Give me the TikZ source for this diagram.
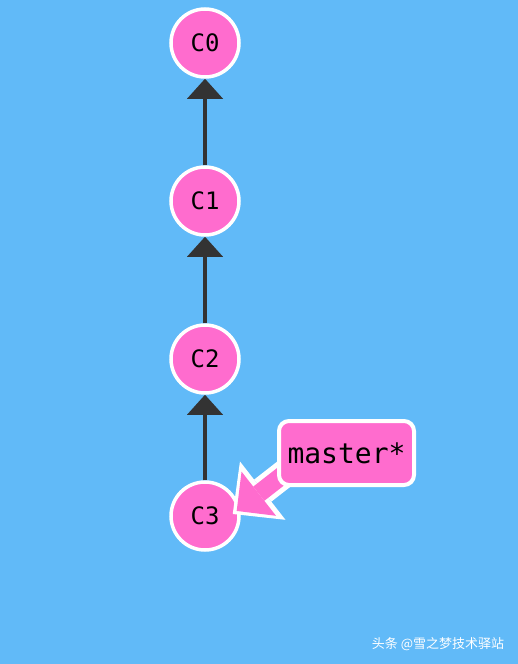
\documentclass[tikz,border=0pt]{standalone}
\usepackage{fontspec}
\setmonofont{DejaVu Sans Mono}
\newfontfamily\cjkfont{Noto Sans CJK SC}
\usepackage{xcolor}
\usepackage{tikz}
\usetikzlibrary{positioning}
\usetikzlibrary{arrows.meta}
\definecolor{bgblue}{RGB}{97,186,248}
\definecolor{commitpink}{RGB}{255,108,206}
\definecolor{edgegray}{RGB}{51,51,51}
\tikzstyle{commit}=[circle,fill=commitpink,draw=white,line width=3.5pt,minimum size=68pt,inner sep=0pt,font=\ttfamily\fontsize{24}{28}\selectfont]
\tikzstyle{edge} = [draw,line width=4pt,edgegray,-{Triangle[width=36pt,length=20pt,line width=0pt]}]
\tikzstyle{branch}=[rectangle,rounded corners=10pt,fill=commitpink,draw=white,line width=4pt,minimum width=135pt,minimum height=64pt,inner sep=0pt,font=\ttfamily\fontsize{28}{32}\selectfont]
\tikzstyle{headout}=[draw=white,line width=28pt,-{Triangle[width=74pt,length=38pt,line width=0pt]}]
\tikzstyle{headin}=[draw=commitpink,line width=18pt,shorten >=5pt,-{Triangle[width=56pt,length=28pt,line width=0pt]}]
\tikzset{wmark/.style={font=\cjkfont\fontsize{13}{15}\selectfont,text=white}}

\begin{document}
\begin{tikzpicture}[x=1pt,y=-1pt]

 \fill[bgblue] (0,0) rectangle (518,664);

 %commits
 \foreach \x/\y/\name/\label in {205/43/C0/C0, 205/201/C1/C1, 205/359/C2/C2, 205/516/C3/C3}
          \node[commit] (\name) at (\x,\y) {\label};

 \foreach \source/ \dest in {C1/C0, C2/C1, C3/C2}
         \path[edge] (\source) -- (\dest);

 %branch
 \coordinate (mtail) at (322.5,444);
 \coordinate (mtip) at ([xshift=-8pt,yshift=2pt]C3.east);
 \path[headout] (mtail) -- (mtip);
 \path[headin] (mtail) -- (mtip);
 \node[branch] (master) at (346.5,453) {master*};

 \node[wmark] (wm) at (438,644) {头条 @雪之梦技术驿站};

\end{tikzpicture}
\end{document}
